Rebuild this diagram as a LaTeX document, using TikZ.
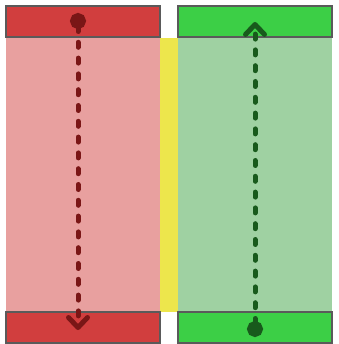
\documentclass[tikz,border=0pt]{standalone}
\usetikzlibrary{arrows.meta}
\definecolor{redbox}{HTML}{D13E3E}
\definecolor{redband}{HTML}{E8A09F}
\definecolor{greenbox}{HTML}{3CCF46}
\definecolor{greenband}{HTML}{9FD1A2}
\definecolor{divider}{HTML}{EDE64C}
\definecolor{framegray}{HTML}{5A5A5A}
\definecolor{darkred}{HTML}{7A1616}
\definecolor{darkgreen}{HTML}{185A1C}
\tikzset{
  band/.style={draw=none, inner sep=0, minimum width=154pt, minimum height=274pt},
  capbox/.style={draw=framegray, line width=2pt, inner sep=0, minimum width=154pt, minimum height=31pt},
  flow/.style={line width=5pt, dash pattern=on 5pt off 10.8pt, line cap=round,
    {Circle[length=16pt]}-{Straight Barb[length=10pt,width=19pt,line width=5pt,round]}},
}
\begin{document}
\begin{tikzpicture}[x=1pt,y=-1pt]
  \useasboundingbox (0,0) rectangle (338,344);
  % background bands
  \node[band, fill=redband] (bandL) at (83,175) {};
  \node[band, fill=greenband] (bandR) at (255,175) {};
  \node[inner sep=0, minimum width=18pt, minimum height=274pt, fill=divider] (mid) at (169,175) {};
  % end caps
  \node[capbox, fill=redbox] (topL) at (83,22) {};
  \node[capbox, fill=redbox] (botL) at (83,327) {};
  \node[capbox, fill=greenbox] (topR) at (255,22) {};
  \node[capbox, fill=greenbox] (botR) at (255,327) {};
  % flow directions: the dot marks the source, the barb the sink
  \coordinate (sL) at ([xshift=-5pt,yshift=9pt]topL.center);
  \coordinate (eL) at ([xshift=-5pt,yshift=-3pt]botL.center);
  \coordinate (sR) at ([yshift=-10pt]botR.center);
  \coordinate (eR) at ([yshift=0pt]topR.center);
  \draw[flow, darkred] (sL) -- (eL);
  \draw[flow, darkgreen] (sR) -- (eR);
\end{tikzpicture}
\end{document}
